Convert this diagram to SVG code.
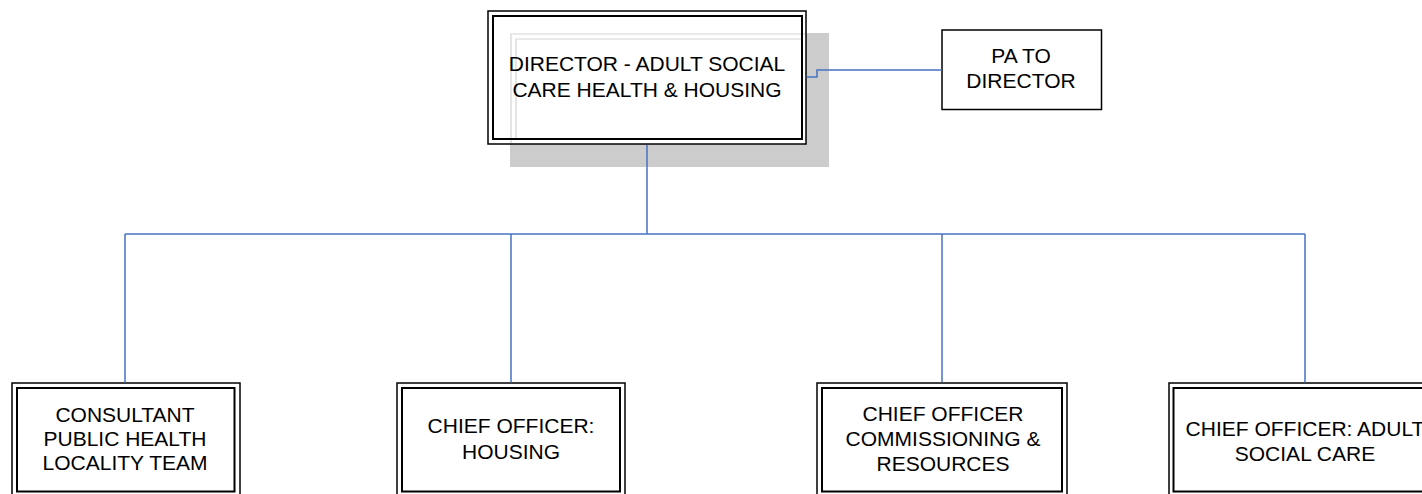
<svg xmlns="http://www.w3.org/2000/svg" width="1422" height="494" viewBox="0 0 1422 494">
<style>
  .outer { fill: #ffffff; stroke: #000000; stroke-width: 1.5; }
  .inner { fill: none; stroke: #000000; stroke-width: 2; }
  .single { fill: #ffffff; stroke: #000000; stroke-width: 1.5; }
  .shadow { fill: #cccccc; stroke: none; }
  .ghost { fill: none; stroke: #d4d4d4; stroke-width: 1.2; }
  .conn { fill: none; stroke: #4472c4; stroke-width: 1.5; }
  text { font-family: "Liberation Sans", Arial, sans-serif; font-size: 21px; fill: #000000; text-anchor: middle; }
</style>
<rect x="0" y="0" width="1422" height="494" fill="#ffffff"/>

<g id="director">
  <rect class="shadow" x="510" y="33" width="319" height="134"/>
  <rect class="outer" x="488" y="11" width="318" height="133"/>
  <path class="ghost" d="M805,34 H511 V143"/>
  <path class="ghost" d="M801,39 H516 V138"/>
  <rect class="inner" x="493" y="16" width="309" height="123"/>
  <text x="647" y="71">DIRECTOR - ADULT SOCIAL</text>
  <text x="647" y="97">CARE HEALTH &amp; HOUSING</text>
</g>

<g id="pa">
  <rect class="single" x="942" y="30" width="159.5" height="79.5"/>
  <text x="1021" y="63">PA TO</text>
  <text x="1021" y="88">DIRECTOR</text>
</g>

<g id="consultant">
  <rect class="outer" x="12" y="383" width="228" height="116"/>
  <rect class="inner" x="17" y="388" width="217.5" height="103.5"/>
  <text x="125" y="421.5">CONSULTANT</text>
  <text x="125" y="445.5">PUBLIC HEALTH</text>
  <text x="125" y="470">LOCALITY TEAM</text>
</g>

<g id="housing">
  <rect class="outer" x="397" y="383" width="228" height="116"/>
  <rect class="inner" x="402" y="388" width="218" height="103.5"/>
  <text x="511" y="433">CHIEF OFFICER:</text>
  <text x="511" y="459">HOUSING</text>
</g>

<g id="commissioning">
  <rect class="outer" x="817" y="383" width="250" height="116"/>
  <rect class="inner" x="822" y="388" width="240" height="103.5"/>
  <text x="943" y="421">CHIEF OFFICER</text>
  <text x="943" y="446">COMMISSIONING &amp;</text>
  <text x="943" y="471">RESOURCES</text>
</g>

<g id="adult">
  <rect class="outer" x="1169" y="383" width="272" height="116"/>
  <rect class="inner" x="1173.5" y="388" width="263" height="103.5"/>
  <text x="1305" y="436">CHIEF OFFICER: ADULT</text>
  <text x="1305" y="461">SOCIAL CARE</text>
</g>

<g id="connectors">
  <path class="conn" d="M806.5,77 H817 V70 H942"/>
  <path class="conn" d="M647,145 V234"/>
  <path class="conn" d="M125,234 H1305"/>
  <path class="conn" d="M125,234 V382.5"/>
  <path class="conn" d="M511,234 V382.5"/>
  <path class="conn" d="M942,234 V382.5"/>
  <path class="conn" d="M1305,234 V382.5"/>
</g>
</svg>
